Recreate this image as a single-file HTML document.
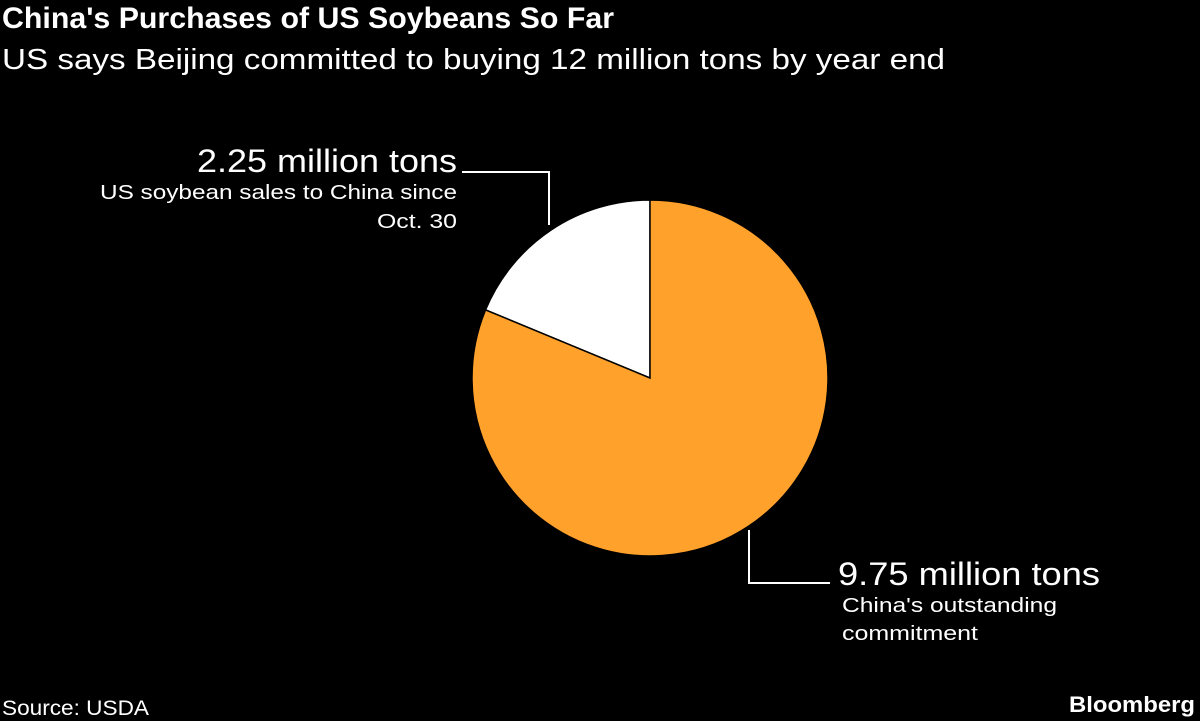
<!DOCTYPE html>
<html><head><meta charset="utf-8"><style>
html,body{margin:0;padding:0;background:#000;}
svg{display:block;font-family:"Liberation Sans",sans-serif;}
</style></head><body>
<svg width="1200" height="721" viewBox="0 0 1200 721">
<rect width="1200" height="721" fill="#000"/>
<text x="2" y="28" fill="#fff" font-weight="bold" font-size="30" textLength="612" lengthAdjust="spacingAndGlyphs">China's Purchases of US Soybeans So Far</text>
<text x="2" y="69" fill="#fff" font-size="29" textLength="943" lengthAdjust="spacingAndGlyphs">US says Beijing committed to buying 12 million tons by year end</text>
<g id="pie"></g>
<g>
<polyline points="462,172 549,172 549,225" fill="none" stroke="#fff" stroke-width="2"/>
<text x="457" y="172" text-anchor="end" fill="#fff" font-size="32" textLength="260" lengthAdjust="spacingAndGlyphs">2.25 million tons</text>
<text x="457" y="199" text-anchor="end" fill="#fff" font-size="20" textLength="357" lengthAdjust="spacingAndGlyphs">US soybean sales to China since</text>
<text x="457" y="228" text-anchor="end" fill="#fff" font-size="20" textLength="80" lengthAdjust="spacingAndGlyphs">Oct. 30</text>
</g>
<g>
<polyline points="749,530 749,583 830,583" fill="none" stroke="#fff" stroke-width="2"/>
<text x="838" y="585" fill="#fff" font-size="32" textLength="262" lengthAdjust="spacingAndGlyphs">9.75 million tons</text>
<text x="842" y="612" fill="#fff" font-size="20" textLength="215" lengthAdjust="spacingAndGlyphs">China's outstanding</text>
<text x="842" y="640" fill="#fff" font-size="20" textLength="136" lengthAdjust="spacingAndGlyphs">commitment</text>
</g>
<text x="2" y="715" fill="#fff" font-size="21" textLength="147" lengthAdjust="spacingAndGlyphs">Source: USDA</text>
<text x="1195" y="712" text-anchor="end" fill="#fff" font-size="22" font-weight="bold" textLength="126" lengthAdjust="spacingAndGlyphs">Bloomberg</text>
</svg>
<script>
const categories = ["US soybean sales to China since Oct. 30", "China's outstanding commitment"];
const values = [2.25, 9.75];
const colors = ["#ffffff", "#ffa12b"];
const cx = 650, cy = 378, r = 178;
const total = values.reduce((a,b)=>a+b,0);
const g = document.getElementById('pie');
const ns = 'http://www.w3.org/2000/svg';
function pt(a){ return [cx + r*Math.sin(a), cy - r*Math.cos(a)]; }
let start = 0;
values.forEach((v,i)=>{
  const sweep = v/total*2*Math.PI;
  // first slice goes counterclockwise from 12 o'clock
  const a0 = -start, a1 = -(start+sweep);
  const p0 = pt(a0), p1 = pt(a1);
  const large = sweep > Math.PI ? 1 : 0;
  const p = document.createElementNS(ns,'path');
  p.setAttribute('d', `M${cx},${cy} L${p0[0]},${p0[1]} A${r},${r} 0 ${large} 0 ${p1[0]},${p1[1]} Z`);
  p.setAttribute('fill', colors[i]);
  p.setAttribute('stroke', '#000');
  p.setAttribute('stroke-width', '1.5');
  
  
  g.appendChild(p);
  start += sweep;
});
</script>
</body></html>
